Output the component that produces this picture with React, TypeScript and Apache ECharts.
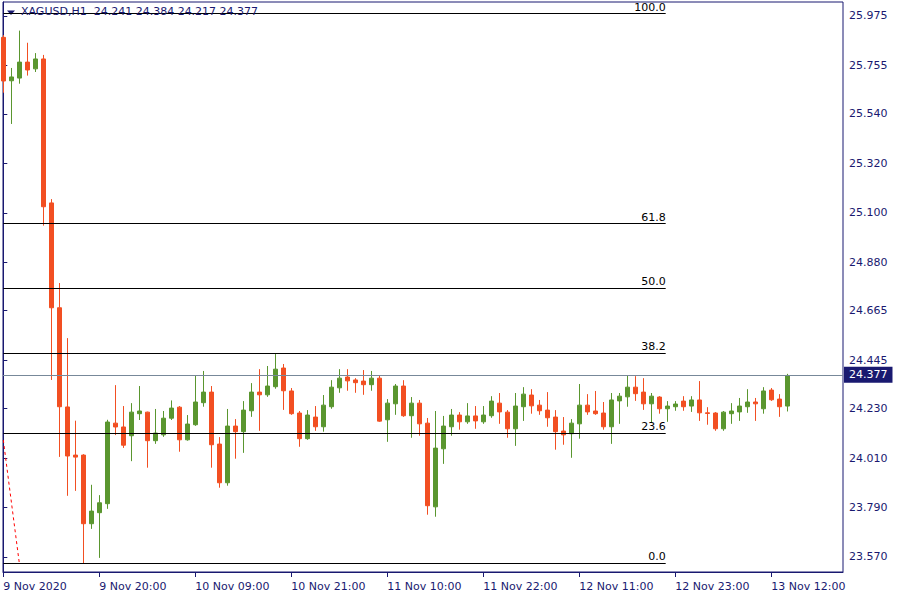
import * as echarts from 'echarts';
import { useEffect, useRef } from 'react';

// XAGUSD H1 candles, index 0 = 9 Nov 2020 08:00
const opens = [
  25.880, 25.687, 25.699, 25.770, 25.740, 25.784, 25.144, 24.678, 24.237, 24.023,
  24.023, 23.718, 23.767, 23.807, 24.165, 24.148, 24.109, 24.207, 24.214, 24.087,
  24.113, 24.187, 24.236, 24.091, 24.158, 24.256, 24.303, 24.072, 23.900, 24.152,
  24.127, 24.220, 24.303, 24.291, 24.327, 24.410, 24.308, 24.210, 24.096, 24.192,
  24.149, 24.238, 24.322, 24.370, 24.357, 24.352, 24.336, 24.365, 24.180, 24.251,
  24.330, 24.198, 24.254, 24.165, 23.793, 24.051, 24.149, 24.201, 24.171, 24.197,
  24.171, 24.198, 24.254, 24.214, 24.140, 24.238, 24.290, 24.245, 24.223, 24.192,
  24.130, 24.118, 24.162, 24.245, 24.219, 24.210, 24.149, 24.264, 24.282, 24.325,
  24.303, 24.251, 24.281, 24.229, 24.238, 24.263, 24.241, 24.268, 24.211, 24.210,
  24.140, 24.207, 24.215, 24.238, 24.259, 24.229, 24.312, 24.272, 24.241,
];
const highs = [
  25.890, 25.744, 25.910, 25.856, 25.810, 25.802, 25.161, 24.788, 24.543, 24.176,
  24.027, 23.891, 23.845, 24.180, 24.334, 24.241, 24.254, 24.330, 24.216, 24.228,
  24.219, 24.266, 24.241, 24.201, 24.379, 24.397, 24.330, 24.103, 24.228, 24.183,
  24.263, 24.343, 24.405, 24.419, 24.472, 24.428, 24.321, 24.219, 24.223, 24.241,
  24.290, 24.356, 24.405, 24.405, 24.365, 24.401, 24.397, 24.379, 24.272, 24.339,
  24.356, 24.281, 24.268, 24.188, 24.219, 24.197, 24.228, 24.214, 24.254, 24.241,
  24.241, 24.285, 24.299, 24.223, 24.299, 24.325, 24.316, 24.268, 24.303, 24.223,
  24.192, 24.183, 24.339, 24.294, 24.308, 24.259, 24.299, 24.299, 24.379, 24.374,
  24.365, 24.299, 24.285, 24.263, 24.263, 24.285, 24.285, 24.352, 24.236, 24.214,
  24.219, 24.254, 24.277, 24.316, 24.277, 24.325, 24.321, 24.294, 24.384,
];
const lows = [
  25.634, 25.495, 25.674, 25.710, 25.726, 25.043, 24.357, 24.015, 23.842, 23.864,
  23.543, 23.695, 23.566, 23.784, 24.112, 24.055, 23.996, 24.179, 23.967, 24.073,
  24.104, 24.179, 24.038, 24.087, 24.153, 24.238, 23.967, 23.878, 23.887, 24.007,
  24.033, 24.193, 24.131, 24.282, 24.318, 24.224, 24.202, 24.060, 24.091, 24.131,
  24.127, 24.229, 24.300, 24.309, 24.300, 24.291, 24.309, 24.171, 24.082, 24.202,
  24.193, 24.100, 24.109, 23.758, 23.749, 23.984, 24.109, 24.136, 24.162, 24.140,
  24.162, 24.189, 24.162, 24.100, 24.064, 24.175, 24.207, 24.202, 24.149, 24.047,
  24.069, 24.011, 24.096, 24.202, 24.202, 24.136, 24.073, 24.162, 24.238, 24.264,
  24.224, 24.166, 24.207, 24.171, 24.220, 24.220, 24.215, 24.175, 24.158, 24.131,
  24.131, 24.162, 24.175, 24.211, 24.175, 24.207, 24.264, 24.193, 24.217,
];
const closes = [
  25.686, 25.704, 25.770, 25.735, 25.784, 25.127, 24.678, 24.238, 24.019, 24.014,
  23.718, 23.774, 23.811, 24.170, 24.148, 24.067, 24.214, 24.219, 24.087, 24.121,
  24.187, 24.232, 24.091, 24.161, 24.259, 24.303, 24.069, 23.900, 24.152, 24.127,
  24.223, 24.303, 24.291, 24.330, 24.405, 24.309, 24.207, 24.096, 24.201, 24.149,
  24.245, 24.325, 24.365, 24.353, 24.345, 24.336, 24.365, 24.174, 24.254, 24.330,
  24.198, 24.254, 24.162, 23.798, 24.054, 24.152, 24.201, 24.171, 24.197, 24.175,
  24.201, 24.263, 24.215, 24.140, 24.241, 24.294, 24.242, 24.220, 24.189, 24.127,
  24.113, 24.165, 24.245, 24.215, 24.207, 24.149, 24.268, 24.285, 24.325, 24.296,
  24.251, 24.285, 24.229, 24.241, 24.250, 24.238, 24.268, 24.211, 24.208, 24.140,
  24.214, 24.219, 24.241, 24.259, 24.251, 24.308, 24.269, 24.238, 24.377,
];

const xTickIndex = [0, 12, 24, 36, 48, 60, 72, 84, 96];
const xTickLabels = [
  '9 Nov 2020', '9 Nov 20:00', '10 Nov 09:00', '10 Nov 21:00', '11 Nov 10:00',
  '11 Nov 22:00', '12 Nov 11:00', '12 Nov 23:00', '13 Nov 12:00',
];
const yTickValues = [25.975, 25.755, 25.540, 25.320, 25.100, 24.880, 24.665, 24.445, 24.230, 24.010, 23.790, 23.570];

const fibLabels = ['0.0', '23.6', '38.2', '50.0', '61.8', '100.0'];
const fibPrices = [23.542, 24.119, 24.476, 24.764, 25.052, 25.986];
const fibStartIndex = 0;
const fibEndIndex = 82.8;

const trendIndex = [0, 2];
const trendPrices = [24.090, 23.543];

const lastPrice = 24.377;
const headerText = 'XAGUSD,H1  24.241 24.384 24.217 24.377';

const NAVY = '#191970';
const BULL = '#5A962F';
const BEAR = '#F24F22';
const FONT = 'DejaVu Sans';

export default function App() {
  const ref = useRef<HTMLDivElement>(null);

  useEffect(() => {
    if (!ref.current) return;
    const chart = echarts.init(ref.current, undefined, { renderer: 'svg' });

    const candleData = opens.map((o, i) => [i, o, closes[i], lows[i], highs[i]]);

    const fibLines: any[] = fibPrices.map((p, i) => [
      {
        coord: [fibStartIndex, p],
        lineStyle: { color: '#000', width: 1, type: 'solid' },
        label: {
          show: true,
          position: 'insideEndTop',
          formatter: fibLabels[i],
          color: '#000',
          fontFamily: FONT,
          fontSize: 11,
          distance: [0, 1],
        },
      },
      { coord: [fibEndIndex, p] },
    ]);

    const option: any = {
      animation: false,
      backgroundColor: '#ffffff',
      title: {
        text: headerText,
        left: 21,
        top: 6,
        padding: 0,
        textStyle: { color: NAVY, fontFamily: FONT, fontSize: 11, fontWeight: 'normal' },
      },
      graphic: [
        {
          type: 'polygon',
          shape: { points: [[7, 10.5], [15, 10.5], [11, 15]] },
          style: { fill: NAVY },
        },
      ],
      grid: {
        left: 3,
        top: 2,
        width: 840,
        height: 570,
        show: true,
        borderColor: NAVY,
        borderWidth: 1,
        backgroundColor: '#ffffff',
      },
      xAxis: {
        type: 'value',
        min: -0.0375,
        max: 104.9625,
        splitLine: { show: false },
        axisLine: { show: true, lineStyle: { color: NAVY, width: 1 } },
        axisTick: { show: true, length: 5, customValues: xTickIndex, lineStyle: { color: NAVY } },
        axisLabel: {
          customValues: xTickIndex,
          formatter: (v: number) => {
            const i = xTickIndex.indexOf(Math.round(v));
            return i >= 0 ? xTickLabels[i] : '';
          },
          align: 'left',
          margin: 9,
          color: NAVY,
          fontFamily: FONT,
          fontSize: 11,
        },
      },
      yAxis: {
        type: 'value',
        position: 'right',
        min: 23.5033,
        max: 26.0372,
        scale: true,
        splitLine: { show: false },
        axisLine: { show: true, lineStyle: { color: NAVY, width: 1 } },
        axisTick: { show: true, length: 4, customValues: yTickValues, lineStyle: { color: NAVY } },
        axisLabel: {
          customValues: yTickValues,
          formatter: (v: number) => v.toFixed(3),
          margin: 6,
          color: NAVY,
          fontFamily: FONT,
          fontSize: 11,
        },
      },
      series: [
        {
          type: 'candlestick',
          data: candleData,
          encode: { x: 0, y: [1, 2, 3, 4] },
          barWidth: 4,
          clip: true,
          itemStyle: {
            color: BULL,
            color0: BEAR,
            borderColor: BULL,
            borderColor0: BEAR,
            borderWidth: 1,
          },
          markLine: {
            silent: true,
            symbol: ['none', 'none'],
            animation: false,
            data: [
              ...fibLines,
              {
                yAxis: lastPrice,
                lineStyle: { color: '#778899', width: 1, type: 'solid' },
                label: {
                  show: true,
                  position: 'end',
                  formatter: lastPrice.toFixed(3),
                  distance: 1,
                  backgroundColor: NAVY,
                  color: '#ffffff',
                  padding: [2, 5, 1, 5],
                  lineHeight: 13,
                  fontFamily: FONT,
                  fontSize: 11,
                },
              },
            ],
          },
        },
        {
          type: 'line',
          data: trendIndex.map((x, i) => [x, trendPrices[i]]),
          symbol: 'none',
          silent: true,
          lineStyle: { color: '#ff0000', width: 1, type: [3, 3] },
        },
      ],
    };

    chart.setOption(option);
    return () => chart.dispose();
  }, []);

  return (
    <div
      ref={ref}
      style={{ position: 'fixed', left: 0, top: 0, width: 900, height: 600, background: '#fff' }}
    />
  );
}
